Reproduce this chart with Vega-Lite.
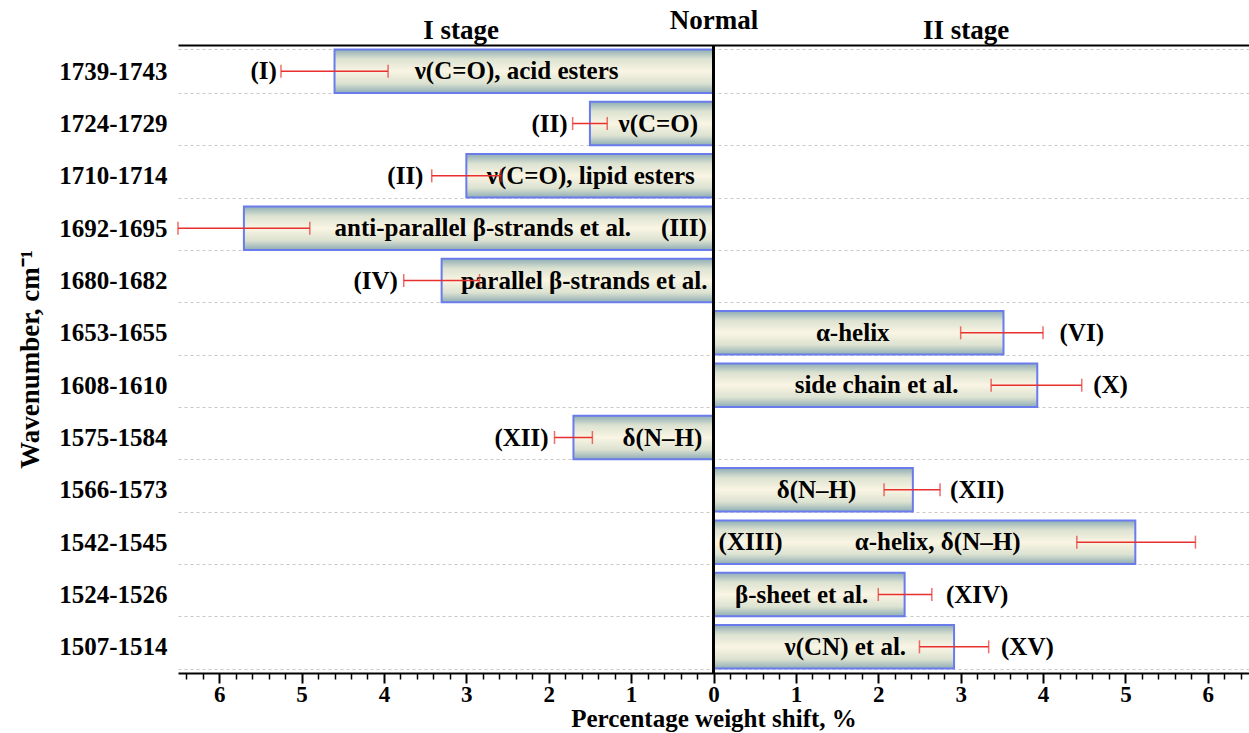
{
  "$schema": "https://vega.github.io/schema/vega-lite/v6.json",
  "autosize": {"type": "none"},
  "width": 1071,
  "height": 628,
  "padding": {"left": 178, "top": 45, "right": 0, "bottom": 60},
  "background": "white",
  "config": {
    "view": {"stroke": null},
    "font": "'Liberation Serif', 'Times New Roman', serif",
    "text": {"font": "'Liberation Serif', 'Times New Roman', serif"},
    "axis": {"labelFont": "'Liberation Serif', 'Times New Roman', serif", "titleFont": "'Liberation Serif', 'Times New Roman', serif", "labelFontWeight": "bold", "titleFontWeight": "bold", "labelColor": "black", "titleColor": "black"}
  },
  "data": {
    "values": [
      {"wn": "1739-1743", "v": -4.6, "lo": -5.25, "hi": -3.95, "desc": "ν(C=O), acid esters", "dx": -2.39, "num": "(I)", "nx": -5.46},
      {"wn": "1724-1729", "v": -1.5, "lo": -1.71, "hi": -1.29, "desc": "ν(C=O)", "dx": -0.67, "num": "(II)", "nx": -1.99},
      {"wn": "1710-1714", "v": -3.0, "lo": -3.42, "hi": -2.58, "desc": "ν(C=O), lipid esters", "dx": -1.49, "num": "(II)", "nx": -3.74},
      {"wn": "1692-1695", "v": -5.7, "lo": -6.5, "hi": -4.9, "desc": "anti-parallel β-strands et al.", "dx": -2.8, "num": "(III)", "nx": -0.36},
      {"wn": "1680-1682", "v": -3.3, "lo": -3.76, "hi": -2.84, "desc": "parallel β-strands et al.", "dx": -1.57, "num": "(IV)", "nx": -4.1},
      {"wn": "1653-1655", "v": 3.52, "lo": 3.0, "hi": 4.0, "desc": "α-helix", "dx": 1.69, "num": "(VI)", "nx": 4.47},
      {"wn": "1608-1610", "v": 3.93, "lo": 3.37, "hi": 4.47, "desc": "side chain et al.", "dx": 1.98, "num": "(X)", "nx": 4.82},
      {"wn": "1575-1584", "v": -1.7, "lo": -1.93, "hi": -1.47, "desc": "δ(N–H)", "dx": -0.62, "num": "(XII)", "nx": -2.33},
      {"wn": "1566-1573", "v": 2.42, "lo": 2.07, "hi": 2.75, "desc": "δ(N–H)", "dx": 1.25, "num": "(XII)", "nx": 3.2},
      {"wn": "1542-1545", "v": 5.12, "lo": 4.41, "hi": 5.85, "desc": "α-helix, δ(N–H)", "dx": 2.72, "num": "(XIII)", "nx": 0.45},
      {"wn": "1524-1526", "v": 2.32, "lo": 2.0, "hi": 2.65, "desc": "β-sheet et al.", "dx": 1.07, "num": "(XIV)", "nx": 3.2},
      {"wn": "1507-1514", "v": 2.92, "lo": 2.5, "hi": 3.34, "desc": "ν(CN) et al.", "dx": 1.6, "num": "(XV)", "nx": 3.81}
    ]
  },
  "resolve": {"axis": {"x": "independent"}},
  "layer": [
    {
      "mark": {
        "type": "bar",
        "stroke": "#6a7cec",
        "strokeWidth": 2,
        "fill": {
          "gradient": "linear", "x1": 0, "y1": 0, "x2": 0, "y2": 1,
          "stops": [
            {"offset": 0, "color": "#8fadb4"},
            {"offset": 0.22, "color": "#dce2d1"},
            {"offset": 0.5, "color": "#faf5e4"},
            {"offset": 0.78, "color": "#dce2d1"},
            {"offset": 1, "color": "#8fadb4"}
          ]
        }
      },
      "encoding": {
        "y": {
          "field": "wn", "type": "nominal", "sort": null,
          "scale": {"paddingInner": 0.17, "paddingOuter": 0.085},
          "axis": {
            "title": "Wavenumber, cm⁻¹", "titleFontSize": 27, "titlePadding": 14,
            "labelFontSize": 25, "labelPadding": 11, "domain": false, "ticks": false,
            "grid": true, "tickBand": "extent", "gridColor": "#c8c8c8", "gridDash": [3, 3], "gridWidth": 1
          }
        },
        "x": {
          "field": "v", "type": "quantitative",
          "scale": {"domain": [-6.5, 6.5], "nice": false, "zero": false},
          "axis": {
            "orient": "bottom", "values": [-6, -5, -4, -3, -2, -1, 0, 1, 2, 3, 4, 5, 6],
            "labelExpr": "format(abs(datum.value), 'd')",
            "title": "Percentage weight shift, %", "titleFontSize": 25, "titlePadding": 0,
            "labelFontSize": 23, "labelPadding": 0, "tickSize": 10, "tickWidth": 2, "tickColor": "black",
            "domainColor": "black", "domainWidth": 2, "grid": false
          }
        }
      }
    },
    {
      "mark": {"type": "rule", "color": "black", "strokeWidth": 2},
      "encoding": {
        "x": {"datum": 0, "type": "quantitative", "axis": {
          "orient": "bottom", "values": [-6.4, -6.2, -5.8, -5.6, -5.4, -5.2, -4.8, -4.6, -4.4, -4.2, -3.8, -3.6, -3.4, -3.2, -2.8, -2.6, -2.4, -2.2, -1.8, -1.6, -1.4, -1.2, -0.8, -0.6, -0.4, -0.2, 0.2, 0.4, 0.6, 0.8, 1.2, 1.4, 1.6, 1.8, 2.2, 2.4, 2.6, 2.8, 3.2, 3.4, 3.6, 3.8, 4.2, 4.4, 4.6, 4.8, 5.2, 5.4, 5.6, 5.8, 6.2, 6.4],
          "labels": false, "title": null, "domain": false, "tickSize": 6, "tickWidth": 1.5, "tickColor": "black", "grid": false
        }}
      }
    },
    {
      "mark": {"type": "text", "fontWeight": "bold", "fontSize": 25, "color": "black"},
      "encoding": {
        "y": {"field": "wn", "type": "nominal", "sort": null},
        "x": {"field": "dx", "type": "quantitative", "axis": {
          "orient": "top", "values": [-3.07, 0, 3.06],
          "labelExpr": "datum.value == 0 ? 'Normal' : (datum.value < 0 ? 'I stage' : 'II stage')",
          "labelFontSize": 27,
          "labelPadding": {"condition": {"test": "datum.value == 0", "value": 11}, "value": 1},
          "ticks": false, "title": null,
          "domainColor": "black", "domainWidth": 2, "grid": false
        }},
        "text": {"field": "desc"}
      }
    },
    {
      "mark": {"type": "text", "fontWeight": "bold", "fontSize": 25, "color": "black"},
      "encoding": {
        "y": {"field": "wn", "type": "nominal", "sort": null},
        "x": {"field": "nx", "type": "quantitative", "axis": null},
        "text": {"field": "num"}
      }
    },
    {
      "mark": {"type": "rule", "color": "#e8312f", "strokeWidth": 1.5},
      "encoding": {
        "y": {"field": "wn", "type": "nominal", "sort": null},
        "x": {"field": "lo", "type": "quantitative", "axis": null},
        "x2": {"field": "hi"}
      }
    },
    {
      "mark": {"type": "tick", "color": "#e8312f", "thickness": 1.5, "size": 13, "orient": "vertical"},
      "encoding": {
        "y": {"field": "wn", "type": "nominal", "sort": null},
        "x": {"field": "lo", "type": "quantitative", "axis": null}
      }
    },
    {
      "mark": {"type": "tick", "color": "#e8312f", "thickness": 1.5, "size": 13, "orient": "vertical"},
      "encoding": {
        "y": {"field": "wn", "type": "nominal", "sort": null},
        "x": {"field": "hi", "type": "quantitative", "axis": null}
      }
    }
  ]
}
